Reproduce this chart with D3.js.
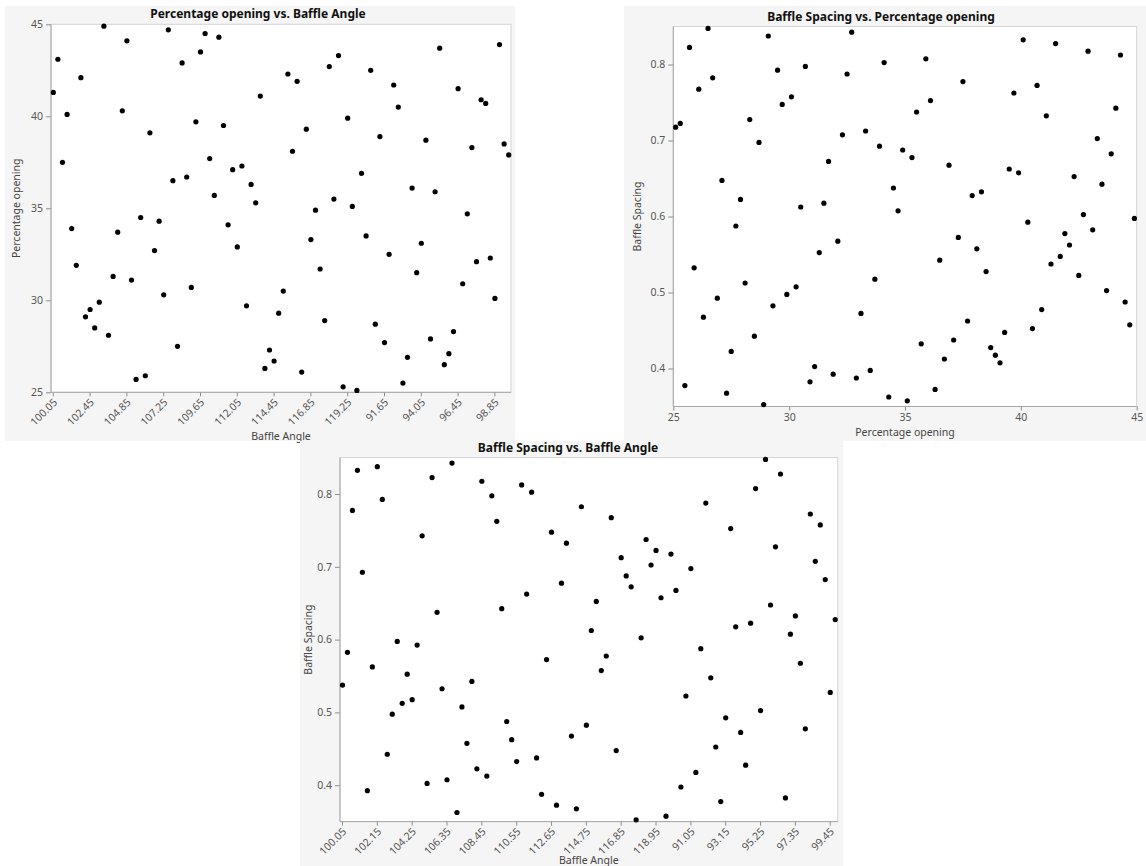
<!DOCTYPE html>
<html>
<head>
<meta charset="utf-8">
<script src="https://cdn.jsdelivr.net/npm/d3@7"></script>
<style>
  body { margin: 0; background: #fff; }
  svg { display: block; font-family: "Noto Sans", "Open Sans", sans-serif; }
</style>
</head>
<body>
<script>
// 100-run space filling design: each run has a baffle angle, opening and spacing.
// Baffle angle is nominal, so it sorts as text (100.05 ... 119.85, 90.15 ... 99.75)
const baffleAngle = [
  "100.05","100.35","100.65","100.95","101.25","101.55","101.85","102.15","102.45","102.75",
  "103.05","103.35","103.65","103.95","104.25","104.55","104.85","105.15","105.45","105.75",
  "106.05","106.35","106.65","106.95","107.25","107.55","107.85","108.15","108.45","108.75",
  "109.05","109.35","109.65","109.95","110.25","110.55","110.85","111.15","111.45","111.75",
  "112.05","112.35","112.65","112.95","113.25","113.55","113.85","114.15","114.45","114.75",
  "115.05","115.35","115.65","115.95","116.25","116.55","116.85","117.15","117.45","117.75",
  "118.05","118.35","118.65","118.95","119.25","119.55","119.85","90.15","90.45","90.75",
  "91.05","91.35","91.65","91.95","92.25","92.55","92.85","93.15","93.45","93.75",
  "94.05","94.35","94.65","94.95","95.25","95.55","95.85","96.15","96.45","96.75",
  "97.05","97.35","97.65","97.95","98.25","98.55","98.85","99.15","99.45","99.75"
];

const percentageOpening = [
  41.3, 43.1, 37.5, 40.1, 33.9, 31.9, 42.1, 29.1, 29.5, 28.5,
  29.9, 44.9, 28.1, 31.3, 33.7, 40.3, 44.1, 31.1, 25.7, 34.5,
  25.9, 39.1, 32.7, 34.3, 30.3, 44.7, 36.5, 27.5, 42.9, 36.7,
  30.7, 39.7, 43.5, 44.5, 37.7, 35.7, 44.3, 39.5, 34.1, 37.1,
  32.9, 37.3, 29.7, 36.3, 35.3, 41.1, 26.3, 27.3, 26.7, 29.3,
  30.5, 42.3, 38.1, 41.9, 26.1, 39.3, 33.3, 34.9, 31.7, 28.9,
  42.7, 35.5, 43.3, 25.3, 39.9, 35.1, 25.1, 36.9, 33.5, 42.5,
  28.7, 38.9, 27.7, 32.5, 41.7, 40.5, 25.5, 26.9, 36.1, 31.5,
  33.1, 38.7, 27.9, 35.9, 43.7, 26.5, 27.1, 28.3, 41.5, 30.9,
  34.7, 38.3, 32.1, 40.9, 40.7, 32.3, 30.1, 43.9, 38.5, 37.9
];

const baffleSpacing = [
  0.5375, 0.5825, 0.7775, 0.8325, 0.6925, 0.3925, 0.5625, 0.8375, 0.7925, 0.4425,
  0.4975, 0.5975, 0.5125, 0.5525, 0.5175, 0.5925, 0.7425, 0.4025, 0.8225, 0.6375,
  0.5325, 0.4075, 0.8425, 0.3625, 0.5075, 0.4575, 0.5425, 0.4225, 0.8175, 0.4125,
  0.7975, 0.7625, 0.6425, 0.4875, 0.4625, 0.4325, 0.8125, 0.6625, 0.8025, 0.4375,
  0.3875, 0.5725, 0.7475, 0.3725, 0.6775, 0.7325, 0.4675, 0.3675, 0.7825, 0.4825,
  0.6125, 0.6525, 0.5575, 0.5775, 0.7675, 0.4475, 0.7125, 0.6875, 0.6725, 0.3525,
  0.6025, 0.7375, 0.7025, 0.7225, 0.6575, 0.3575, 0.7175, 0.6675, 0.3975, 0.5225,
  0.6975, 0.4175, 0.5875, 0.7875, 0.5475, 0.4525, 0.3775, 0.4925, 0.7525, 0.6175,
  0.4725, 0.4275, 0.6225, 0.8075, 0.5025, 0.8475, 0.6475, 0.7275, 0.8275, 0.3825,
  0.6075, 0.6325, 0.5675, 0.4775, 0.7725, 0.7075, 0.7575, 0.6825, 0.5275, 0.6275
];

// tick labels shown on each axis
const angleTicksTop = ["100.05","102.45","104.85","107.25","109.65","112.05","114.45",
                       "116.85","119.25","91.65","94.05","96.45","98.85"];
const angleTicksBottom = ["100.05","102.15","104.25","106.35","108.45","110.55","112.65","114.75",
                          "116.85","118.95","91.05","93.15","95.25","97.35","99.45"];
const openingTicks = [25, 30, 35, 40, 45];
const spacingTicks = [0.4, 0.5, 0.6, 0.7, 0.8];

const runs = d3.range(baffleAngle.length);
const angleOrder = baffleAngle.slice().sort(d3.ascending);

const svg = d3.select("body").append("svg")
              .attr("width", 1146)
              .attr("height", 866);

function angleScale(left, right) {
  const s = d3.scaleBand().domain(angleOrder).range([left, right]).padding(0);
  const f = d => s(d) + s.bandwidth() / 2;
  f.scale = s;
  return f;
}

function drawChart(c) {
  const g = svg.append("g");
  const [pl, pt, pr, pb] = c.plot;

  // panel background
  g.append("rect")
   .attr("x", c.panel[0]).attr("y", c.panel[1])
   .attr("width", c.panel[2] - c.panel[0]).attr("height", c.panel[3] - c.panel[1])
   .attr("fill", "#f5f5f5");

  g.append("rect")
   .attr("x", pl).attr("y", pt)
   .attr("width", pr - pl).attr("height", pb - pt)
   .attr("fill", "#fff")
   .attr("stroke", "#d4d4d4");

  // y axis
  const yAxis = g.append("g")
                 .attr("transform", `translate(${pl},0)`)
                 .call(d3.axisLeft(c.y).tickValues(c.yTicks).tickSize(5).tickPadding(3).tickFormat(c.yFormat));

  // x axis
  const xAxisGen = c.xBand ? d3.axisBottom(c.xBand) : d3.axisBottom(c.xLin);
  const xAxis = g.append("g")
                 .attr("transform", `translate(0,${pb})`)
                 .call(xAxisGen.tickValues(c.xTicks).tickSize(4).tickPadding(3).tickFormat(c.xFormat || null));

  [yAxis, xAxis].forEach(a => {
    a.select(".domain").remove();
    a.selectAll(".tick line").attr("stroke", "#8c8c8c");
    a.selectAll(".tick text")
     .attr("fill", "#555")
     .style("font-size", "10.5px")
     .style("font-family", '"Noto Sans", sans-serif');
  });

  if (c.rotate) {
    xAxis.selectAll(".tick text")
         .attr("x", 0).attr("y", 0).attr("dy", "0.35em")
         .attr("text-anchor", "end")
         .attr("transform", "translate(2,8) rotate(-45)");
  }

  // left and bottom axis lines
  g.append("line").attr("x1", pl).attr("x2", pl).attr("y1", pt).attr("y2", pb).attr("stroke", "#a6a6a6");
  g.append("line").attr("x1", pl).attr("x2", pr).attr("y1", pb).attr("y2", pb).attr("stroke", "#a6a6a6");

  // points
  g.append("g")
   .selectAll("circle")
   .data(runs)
   .enter().append("circle")
   .attr("cx", c.px)
   .attr("cy", c.py)
   .attr("r", 2.6)
   .attr("fill", "#000");

  // titles
  g.append("text")
   .attr("x", c.titleX).attr("y", c.titleY)
   .attr("text-anchor", "middle")
   .style("font-size", "12px").style("font-weight", "700")
   .attr("fill", "#111")
   .text(c.title);

  g.append("text")
   .attr("x", (pl + pr) / 2).attr("y", c.xLabelY)
   .attr("text-anchor", "middle")
   .style("font-size", "10.5px")
   .attr("fill", "#444")
   .text(c.xLabel);

  g.append("text")
   .attr("transform", `translate(${c.yLabelX},${(pt + pb) / 2}) rotate(-90)`)
   .attr("text-anchor", "middle")
   .style("font-size", "10.5px")
   .attr("fill", "#444")
   .text(c.yLabel);
}

// Percentage opening vs. Baffle Angle
const x1 = angleScale(51, 511);
const y1 = d3.scaleLinear().domain([25, 45]).range([392.3, 24.3]);
drawChart({
  panel: [5, 6, 515, 441],
  plot: [51, 24.3, 511, 392.3],
  xBand: x1.scale, xTicks: angleTicksTop, rotate: true,
  y: y1, yTicks: openingTicks, yFormat: d3.format("d"),
  px: i => x1(baffleAngle[i]), py: i => y1(percentageOpening[i]),
  title: "Percentage opening vs. Baffle Angle", titleX: 258, titleY: 18,
  xLabel: "Baffle Angle", xLabelY: 440,
  yLabel: "Percentage opening", yLabelX: 20
});

// Baffle Spacing vs. Percentage opening
const x2 = d3.scaleLinear().domain([25, 45]).range([673.3, 1136.7]);
const y2 = d3.scaleLinear().domain([0.35, 0.85]).range([406.5, 26.5]);
drawChart({
  panel: [624, 6, 1146, 441],
  plot: [673.3, 26.5, 1136.7, 406.5],
  xLin: x2, xTicks: openingTicks, xFormat: d3.format("d"),
  y: y2, yTicks: spacingTicks, yFormat: d3.format(".1f"),
  px: i => x2(percentageOpening[i]), py: i => y2(baffleSpacing[i]),
  title: "Baffle Spacing vs. Percentage opening", titleX: 881, titleY: 21,
  xLabel: "Percentage opening", xLabelY: 436,
  yLabel: "Baffle Spacing", yLabelX: 641
});

// Baffle Spacing vs. Baffle Angle
const x3 = angleScale(340, 837.7);
const y3 = d3.scaleLinear().domain([0.35, 0.85]).range([821.6, 457.6]);
drawChart({
  panel: [300, 441, 843, 866],
  plot: [340, 457.6, 837.7, 821.6],
  xBand: x3.scale, xTicks: angleTicksBottom, rotate: true,
  y: y3, yTicks: spacingTicks, yFormat: d3.format(".1f"),
  px: i => x3(baffleAngle[i]), py: i => y3(baffleSpacing[i]),
  title: "Baffle Spacing vs. Baffle Angle", titleX: 568, titleY: 452,
  xLabel: "Baffle Angle", xLabelY: 864,
  yLabel: "Baffle Spacing", yLabelX: 312
});
</script>
</body>
</html>
